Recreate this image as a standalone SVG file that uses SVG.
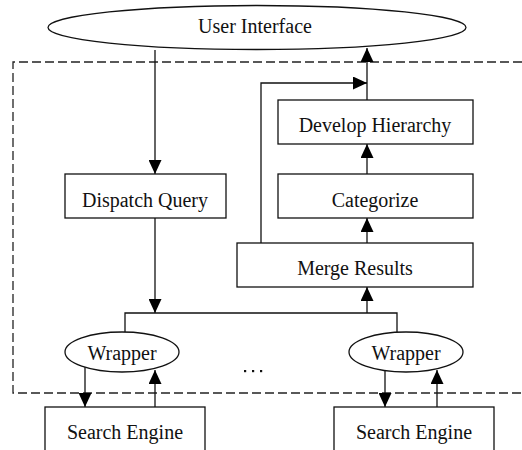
<svg xmlns="http://www.w3.org/2000/svg" width="522" height="450" viewBox="0 0 522 450">
  <style>
    .shape { fill: #fff; stroke: #111; stroke-width: 1.3; }
    .lbl { font-family: "Liberation Serif", "Times New Roman", serif; font-size: 20px; fill: #111; text-anchor: middle; }
    .wire { fill: none; stroke: #111; stroke-width: 1.3; }
    .boundary { fill: none; stroke: #222; stroke-width: 1.3; stroke-dasharray: 9 4; }
  </style>
  <defs>
    <marker id="arrow" markerUnits="userSpaceOnUse" markerWidth="14" markerHeight="13" refX="14" refY="6.5" orient="auto">
      <path d="M0,0 L14,6.5 L0,13 z" fill="#000"/>
    </marker>
  </defs>
  <rect width="522" height="450" fill="#fff"/>

  <!-- system boundary -->
  <path class="boundary" d="M522,62 H13 V393 H522"/>

  <!-- connectors -->
  <g id="connectors">
    <path class="wire" d="M155,50 V174" marker-end="url(#arrow)"/>
    <path class="wire" d="M155,218 V313" marker-end="url(#arrow)"/>
    <path class="wire" d="M125,332 V313 H397 V332"/>
    <path class="wire" d="M367,313 V287" marker-end="url(#arrow)"/>
    <path class="wire" d="M367,243 V218" marker-end="url(#arrow)"/>
    <path class="wire" d="M367,174 V144" marker-end="url(#arrow)"/>
    <path class="wire" d="M367,100 V48" marker-end="url(#arrow)"/>
    <path class="wire" d="M261,243 V83 H367" marker-end="url(#arrow)"/>
    <path class="wire" d="M85,367 V407" marker-end="url(#arrow)"/>
    <path class="wire" d="M155,407 V370" marker-end="url(#arrow)"/>
    <path class="wire" d="M385,371 V407" marker-end="url(#arrow)"/>
    <path class="wire" d="M437,407 V370" marker-end="url(#arrow)"/>
  </g>

  <g id="user-interface">
    <ellipse class="shape" cx="257" cy="27.5" rx="209" ry="22"/>
    <text class="lbl" x="255" y="33">User Interface</text>
  </g>

  <g id="dispatch-query">
    <rect class="shape" x="65" y="174" width="161" height="44"/>
    <text class="lbl" x="145" y="207">Dispatch Query</text>
  </g>

  <g id="develop-hierarchy">
    <rect class="shape" x="278" y="100" width="195" height="44"/>
    <text class="lbl" x="375" y="132">Develop Hierarchy</text>
  </g>

  <g id="categorize">
    <rect class="shape" x="278" y="174" width="195" height="44"/>
    <text class="lbl" x="375" y="207">Categorize</text>
  </g>

  <g id="merge-results">
    <rect class="shape" x="237" y="243" width="236" height="44"/>
    <text class="lbl" x="355" y="275">Merge Results</text>
  </g>

  <g id="wrapper-1">
    <ellipse class="shape" cx="122" cy="352" rx="57" ry="20"/>
    <text class="lbl" x="122" y="360">Wrapper</text>
  </g>

  <g id="wrapper-2">
    <ellipse class="shape" cx="406" cy="352" rx="57" ry="20"/>
    <text class="lbl" x="406" y="360">Wrapper</text>
  </g>

  <g id="ellipsis">
    <rect x="244" y="370" width="2.2" height="2.2" fill="#111"/>
    <rect x="252" y="370" width="2.2" height="2.2" fill="#111"/>
    <rect x="260" y="370" width="2.2" height="2.2" fill="#111"/>
  </g>

  <g id="search-engine-1">
    <rect class="shape" x="45" y="407" width="160" height="60"/>
    <text class="lbl" x="125" y="439">Search Engine</text>
  </g>

  <g id="search-engine-2">
    <rect class="shape" x="334" y="407" width="160" height="60"/>
    <text class="lbl" x="414" y="439">Search Engine</text>
  </g>
</svg>
